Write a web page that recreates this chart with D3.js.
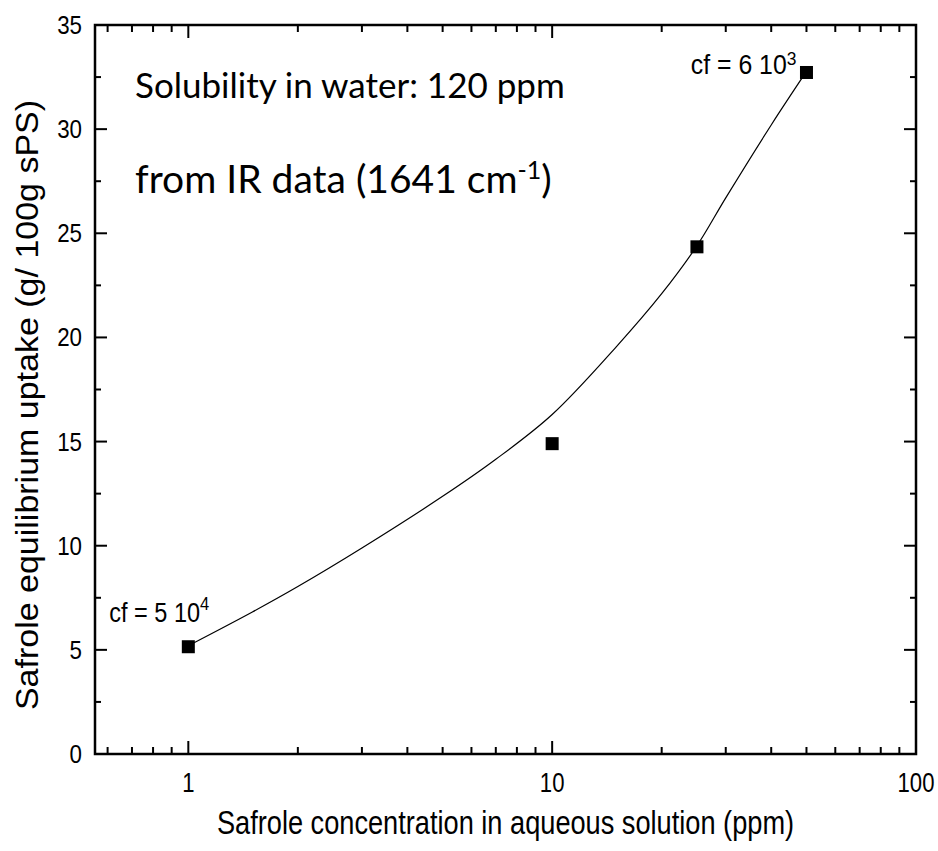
<!DOCTYPE html>
<html><head><meta charset="utf-8">
<script src="https://cdn.jsdelivr.net/npm/d3@7"></script>
<style>body{margin:0;background:#fff}svg{display:block}</style>
</head><body>
<svg id="c" width="938" height="851"></svg>
<script>
// ---- data ----
const concentrations = [1, 10, 25, 50];
const uptake = [5.15, 14.9, 24.35, 32.72];
const fitX = [1, 1.5, 2, 3, 5, 7, 10, 15, 20, 25, 30, 40, 50];
const fitY = [5.2, 6.82, 8.04, 9.89, 12.37, 14.15, 16.3, 19.55, 22.1, 24.4, 26.7, 30.2, 32.77];
const xTickLabels = ["1", "10", "100"];
const yTickValues = [0, 5, 10, 15, 20, 25, 30, 35];
const cfBase = ["cf = 5 10", "cf = 6 10"];
const cfExp = ["4", "3"];

const svg = d3.select("#c");
const L = 95, R = 916, T = 25, B = 754;
const x = d3.scaleLog().domain([0.554, 100]).range([L, R]);
const y = d3.scaleLinear().domain([0, 35]).range([B, T]);
const narrow = "'Liberation Sans', Arial, sans-serif";

// curve
const line = d3.line().x(d => x(d[0])).y(d => y(d[1])).curve(d3.curveCatmullRom.alpha(0.5));
svg.append("path").datum(fitX.map((v, i) => [v, fitY[i]]))
  .attr("d", line).attr("fill", "none").attr("stroke", "#000").attr("stroke-width", 1.2);

// markers
svg.selectAll("rect.pt").data(concentrations).enter().append("rect")
  .attr("x", (d) => x(d) - 6.5).attr("y", (d, i) => y(uptake[i]) - 6.5)
  .attr("width", 13).attr("height", 13).attr("fill", "#000");

// minor ticks values
const minor = [];
[0.1, 1, 10].forEach(dec => { for (let k = 2; k <= 9; k++) { const v = dec * k; if (v > 0.554 && v < 100) minor.push(v); } });
const yMinor = d3.range(2.5, 35, 5);

function xAxisTicks(g, dir) {
  g.selectAll("line.maj").data([1, 10, 100]).enter().append("line")
    .attr("x1", d => x(d)).attr("x2", d => x(d)).attr("y1", 0).attr("y2", dir * 13)
    .attr("stroke", "#000").attr("stroke-width", 2);
  g.selectAll("line.min").data(minor).enter().append("line")
    .attr("x1", d => x(d)).attr("x2", d => x(d)).attr("y1", 0).attr("y2", dir * 7)
    .attr("stroke", "#000").attr("stroke-width", 2);
}
function yAxisTicks(g, dir) {
  g.selectAll("line.maj").data(yTickValues).enter().append("line")
    .attr("y1", d => y(d)).attr("y2", d => y(d)).attr("x1", 0).attr("x2", dir * 12)
    .attr("stroke", "#000").attr("stroke-width", 2);
  g.selectAll("line.min").data(yMinor).enter().append("line")
    .attr("y1", d => y(d)).attr("y2", d => y(d)).attr("x1", 0).attr("x2", dir * 6)
    .attr("stroke", "#000").attr("stroke-width", 2);
}
xAxisTicks(svg.append("g").attr("transform", `translate(0,${B})`), -1);
xAxisTicks(svg.append("g").attr("transform", `translate(0,${T})`), 1);
yAxisTicks(svg.append("g").attr("transform", `translate(${L},0)`), 1);
yAxisTicks(svg.append("g").attr("transform", `translate(${R},0)`), -1);

// frame
svg.append("rect").attr("x", L).attr("y", T).attr("width", R - L).attr("height", B - T)
  .attr("fill", "none").attr("stroke", "#000").attr("stroke-width", 2.5);

// tick labels
svg.selectAll("text.xt").data([1, 10, 100]).enter().append("text")
  .attr("transform", (d) => `translate(${x(d)},${B + 38}) scale(0.82,1)`)
  .attr("text-anchor", "middle").attr("font-family", narrow).attr("font-size", 27)
  .text((d, i) => xTickLabels[i]);
svg.selectAll("text.yt").data(yTickValues).enter().append("text")
  .attr("transform", d => `translate(${L - 13},${y(d) + 9}) scale(0.86,1)`)
  .attr("text-anchor", "end").attr("font-family", narrow).attr("font-size", 26)
  .text(d => d);

// axis titles
svg.append("text").attr("transform", `translate(${(L + R) / 2},${B + 80}) scale(0.8,1)`)
  .attr("text-anchor", "middle").attr("font-family", narrow).attr("font-size", 34)
  .text("Safrole concentration in aqueous solution (ppm)");
svg.append("text").attr("transform", `translate(38,405) rotate(-90) scale(1,0.9)`)
  .attr("text-anchor", "middle").attr("font-family", narrow).attr("font-size", 34)
  .text("Safrole equilibrium uptake (g/ 100g sPS)");

// cf labels
const cf1 = svg.append("text").attr("transform", `translate(${x(1) - 79},${y(5.15) - 25}) scale(0.87,1)`)
  .attr("font-family", narrow).attr("font-size", 27);
cf1.append("tspan").text(cfBase[0]);
cf1.append("tspan").attr("dy", -12).attr("font-size", 19).text(cfExp[0]);
const cf2 = svg.append("text").attr("transform", `translate(${x(50) - 10},${y(32.72) + 2}) scale(0.92,1)`)
  .attr("font-family", narrow).attr("font-size", 27).attr("text-anchor", "end");
cf2.append("tspan").text(cfBase[1]);
cf2.append("tspan").attr("dy", -10).attr("font-size", 19).text(cfExp[1]);

// annotations
const cal = "Lato, 'Open Sans', sans-serif";
svg.append("text").attr("x", 135).attr("y", 98).attr("font-family", cal).attr("font-size", 35)
  .text("Solubility in water: 120 ppm");
const t2 = svg.append("text").attr("x", 135).attr("y", 193).attr("font-family", cal).attr("font-size", 39);
t2.append("tspan").text("from IR data (1641 cm");
t2.append("tspan").attr("dy", -14).attr("font-size", 25).text("-1");
t2.append("tspan").attr("dy", 14).text(")");
</script>
</body></html>
